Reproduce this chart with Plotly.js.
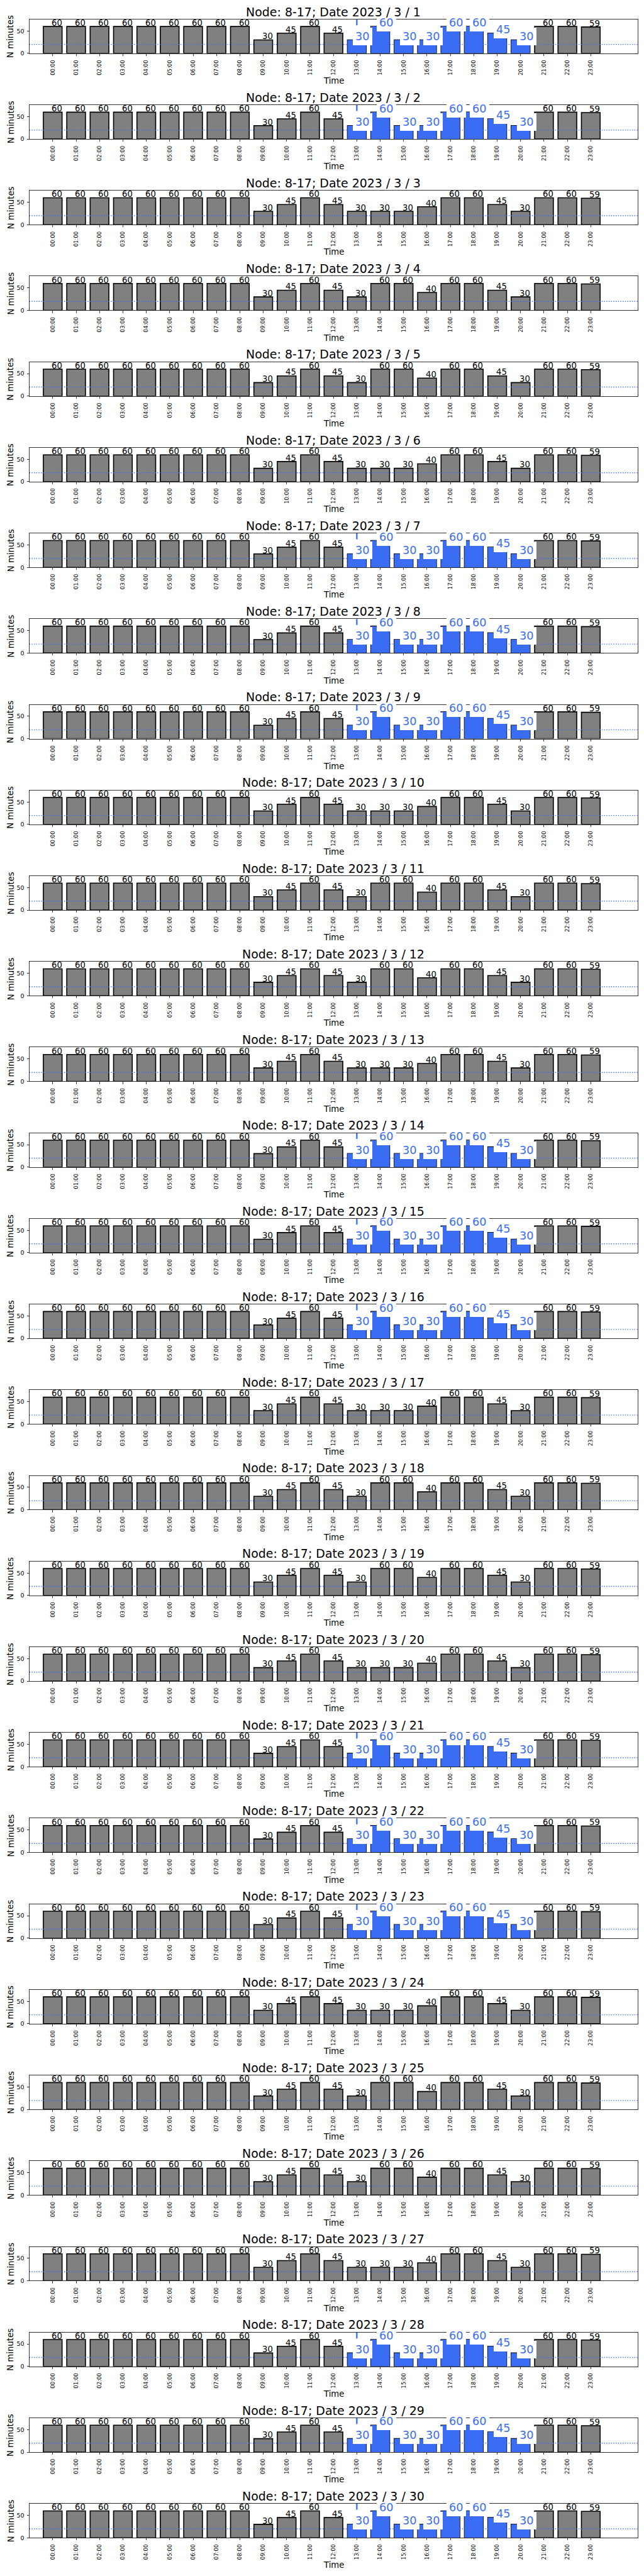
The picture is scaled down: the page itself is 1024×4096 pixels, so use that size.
<!DOCTYPE html>
<html>
<head>
<meta charset="utf-8">
<script src="https://cdn.plot.ly/plotly-3.0.1.min.js"></script>
<style>html,body{margin:0;padding:0;background:#ffffff;}#chart{width:1024px;height:4096px;}</style>
</head>
<body>
<div id="chart"></div>
<script>
// ---------------- data ----------------
const nodeName = '8-17';
const yearNum = 2023;
const monthNum = 3;
const hourLabels = ['00:00','01:00','02:00','03:00','04:00','05:00','06:00','07:00','08:00','09:00','10:00','11:00',
                    '12:00','13:00','14:00','15:00','16:00','17:00','18:00','19:00','20:00','21:00','22:00','23:00'];
const hourValues = [0,1,2,3,4,5,6,7,8,9,10,11,12,13,14,15,16,17,18,19,20,21,22,23];
// minutes per hour, by kind of day
const minutesTueWedThu = [60,60,60,60,60,60,60,60,60,30,45,60,45,30,60,30,30,60,60,45,30,60,60,59];
const minutesMonFri    = [60,60,60,60,60,60,60,60,60,30,45,60,45,30,30,30,40,60,60,45,30,60,60,59];
const minutesSatSun    = [60,60,60,60,60,60,60,60,60,30,45,60,45,30,60,60,40,60,60,45,30,60,60,59];
const dayNumbers = [1,2,3,4,5,6,7,8,9,10,11,12,13,14,15,16,17,18,19,20,21,22,23,24,25,26,27,28,29,30];
const dayKind = ['TWT','TWT','MF','SS','SS','MF','TWT','TWT','TWT','MF','SS','SS','MF','TWT','TWT','TWT',
                 'MF','SS','SS','MF','TWT','TWT','TWT','MF','SS','SS','MF','TWT','TWT','TWT'];
const highlightedHours = [13,14,15,16,17,18,19,20];
const thresholdMinutes = 20;
const markerHour = 13;
const yTickValues = [0,50];
const yMax = 76;
const xMin = -1, xMax = 25;

// ---------------- styles / layout ----------------
const S = 1024/1500;           // reference -> window scale
const FIG_H = 6000;            // reference height
const PITCH = 199.54, AX_TOP = 45, AX_H = 79.3;
const AX_L = 68.3, AX_R = 1485;
const FONT = 'DejaVu Sans';
const BLUE = '#3a6cf4';
const GRAY = '#808080';

const kindMap = {TWT: minutesTueWedThu, MF: minutesMonFri, SS: minutesSatSun};

const traces = [];
const shapes = [];
const annotations = [];
const layout = {
  width: 1024, height: 4096,
  margin: {l:0, r:0, t:0, b:0, pad:0},
  paper_bgcolor: '#ffffff', plot_bgcolor: '#ffffff',
  showlegend: false, barmode: 'overlay',
  font: {family: FONT, color: '#000000'},
  hovermode: false
};

const xCenterPaper = (AX_L + AX_R) / 2 / 1500;

dayNumbers.forEach((day, i) => {
  const k = i + 1;
  const xa = k === 1 ? 'x' : 'x' + k;
  const ya = k === 1 ? 'y' : 'y' + k;
  const vals = kindMap[dayKind[i]];
  const highlighted = dayKind[i] === 'TWT';
  const top = AX_TOP + PITCH * i;
  const bot = top + AX_H;

  layout[k === 1 ? 'xaxis' : 'xaxis' + k] = {
    domain: [AX_L/1500, AX_R/1500], anchor: ya,
    range: [xMin, xMax], tickmode: 'array', tickvals: hourValues, ticktext: hourLabels,
    tickangle: -90, ticks: 'outside', ticklen: 3.3, tickwidth: 0.8, tickcolor: '#000',
    tickfont: {family: FONT, size: 8.5, color: '#000'},
    showline: true, mirror: true, linecolor: '#000', linewidth: 0.8,
    showgrid: false, zeroline: false, fixedrange: true, ticklabelstandoff: 3
  };
  layout[k === 1 ? 'yaxis' : 'yaxis' + k] = {
    domain: [1 - bot/FIG_H, 1 - top/FIG_H], anchor: xa,
    range: [0, yMax], tickmode: 'array', tickvals: yTickValues, ticktext: yTickValues.map(String),
    ticks: 'outside', ticklen: 3.3, tickwidth: 0.8, tickcolor: '#000',
    tickfont: {family: FONT, size: 9.5, color: '#000'},
    showline: true, mirror: true, linecolor: '#000', linewidth: 0.8,
    showgrid: false, zeroline: false, fixedrange: true, ticklabelstandoff: 2
  };

  traces.push({
    type: 'bar', x: hourValues, y: vals, xaxis: xa, yaxis: ya, width: 0.8,
    marker: {color: GRAY, line: {color: '#000000', width: 1.6}}, hoverinfo: 'skip'
  });
  if (highlighted) {
    traces.push({
      type: 'bar', x: highlightedHours, y: highlightedHours.map(h => vals[h]),
      xaxis: xa, yaxis: ya, width: 0.8,
      marker: {color: BLUE, line: {width: 0}}, hoverinfo: 'skip'
    });
  }

  shapes.push({
    type: 'line', xref: xa, yref: ya, x0: xMin, x1: xMax, y0: thresholdMinutes, y1: thresholdMinutes,
    line: {color: BLUE, width: 1.4, dash: '1.4px,2.3px'}, layer: 'above'
  });
  if (highlighted) {
    shapes.push({
      type: 'line', xref: xa, yref: ya, x0: markerHour, x1: markerHour, y0: yMax, y1: 0,
      line: {color: BLUE, width: 2.3, dash: '9.5px,3.8px'}, layer: 'above'
    });
  }

  // value labels
  hourValues.forEach(h => {
    const isBlue = highlighted && highlightedHours.indexOf(h) >= 0;
    if (isBlue) return;
    annotations.push({
      xref: xa, yref: ya, x: h, y: vals[h], text: String(vals[h]), showarrow: false,
      xanchor: 'left', yanchor: 'middle', xshift: -1.9, yshift: 5.7,
      borderpad: 0, borderwidth: 0,
      font: {family: FONT, size: 13.25, color: '#000000'}
    });
  });
  if (highlighted) {
    highlightedHours.forEach(h => {
      annotations.push({
        xref: xa, yref: ya, x: h, y: vals[h], text: String(vals[h]), showarrow: false,
        xanchor: 'left', yanchor: 'middle', xshift: -5.9, yshift: 5.8,
        bgcolor: '#ffffff', borderpad: 4.1, borderwidth: 0,
        font: {family: FONT, size: 17.7, color: BLUE}
      });
    });
  }

  // subplot title, axis titles
  annotations.push({
    xref: 'paper', yref: 'paper', x: xCenterPaper, y: 1 - (27.1 + PITCH*i)/FIG_H,
    xanchor: 'center', yanchor: 'middle', showarrow: false, borderpad: 0, borderwidth: 0,
    text: 'Node: ' + nodeName + '; Date ' + yearNum + ' / ' + monthNum + ' / ' + day,
    font: {family: FONT, size: 18.97, color: '#000000'}
  });
  annotations.push({
    xref: 'paper', yref: 'paper', x: xCenterPaper, y: 1 - (188.3 + PITCH*i)/FIG_H,
    xanchor: 'center', yanchor: 'middle', showarrow: false, borderpad: 0, borderwidth: 0,
    text: 'Time', font: {family: FONT, size: 13.25, color: '#000000'}
  });
  annotations.push({
    xref: 'paper', yref: 'paper', x: 25/1500, y: 1 - (84.7 + PITCH*i)/FIG_H,
    xanchor: 'center', yanchor: 'middle', showarrow: false, borderpad: 0, borderwidth: 0,
    textangle: -90, text: 'N minutes', font: {family: FONT, size: 13.25, color: '#000000'}
  });
});

layout.shapes = shapes;
layout.annotations = annotations;

Plotly.newPlot('chart', traces, layout, {staticPlot: true, displayModeBar: false, responsive: false});
</script>
</body>
</html>
